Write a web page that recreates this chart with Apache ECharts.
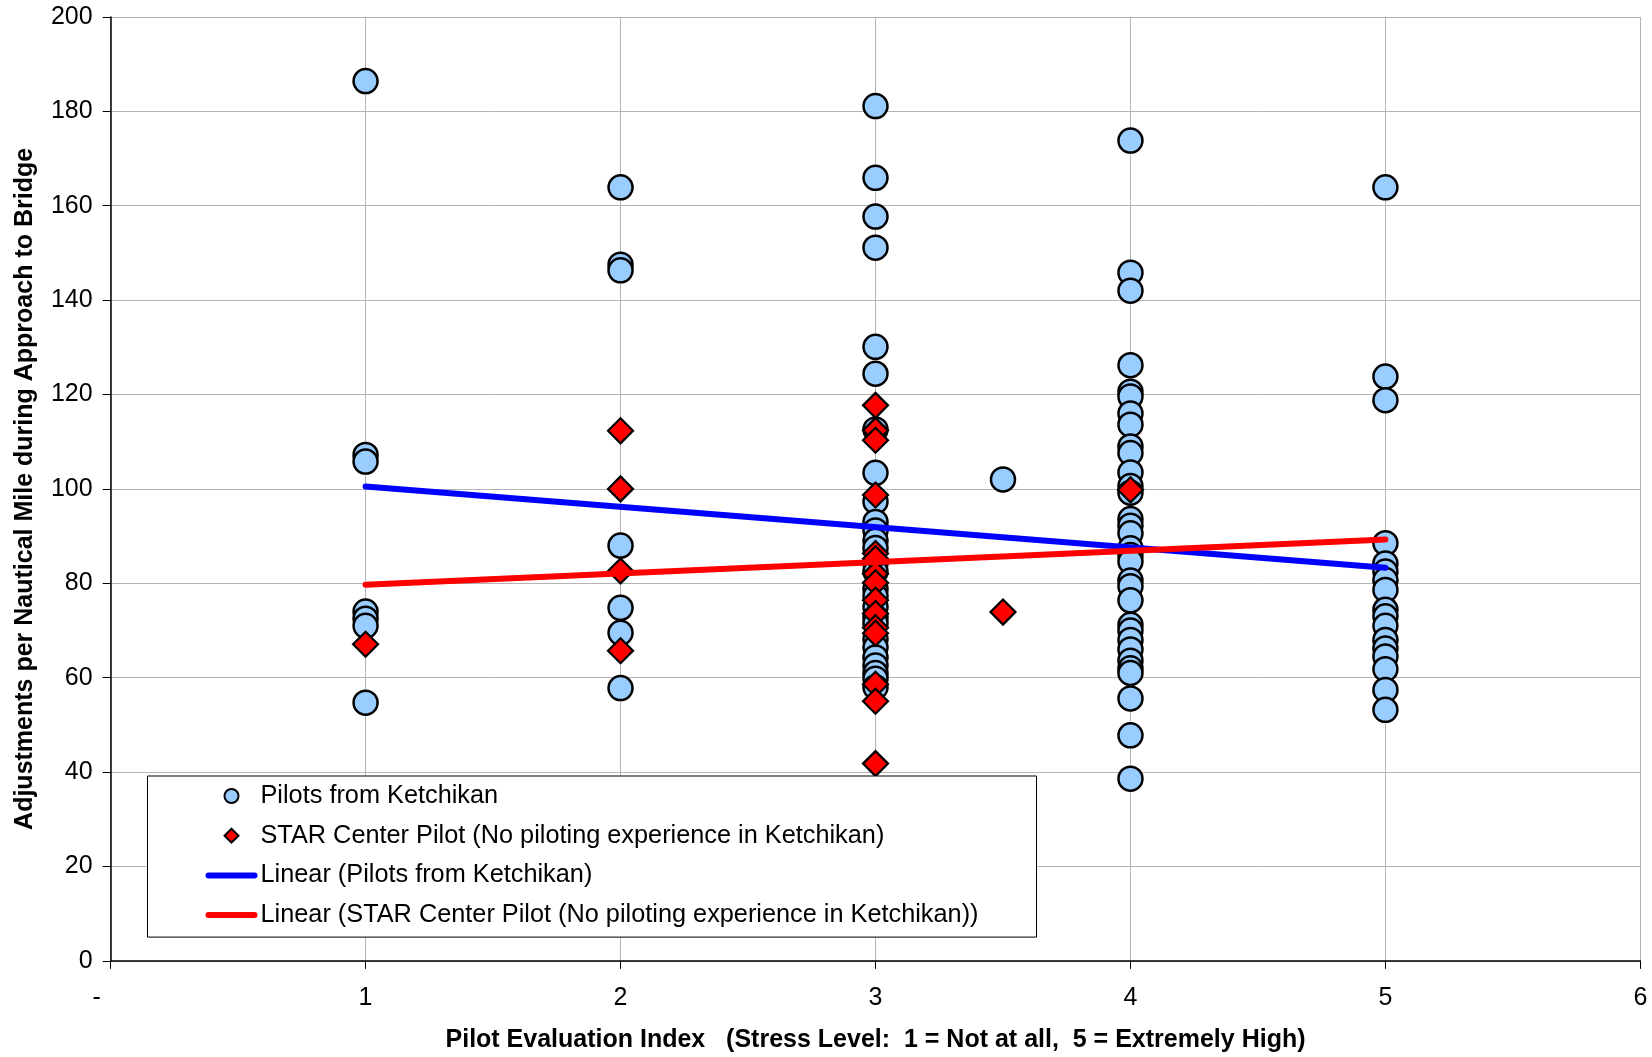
<!DOCTYPE html>
<html>
<head>
<meta charset="utf-8">
<title>Adjustments per Nautical Mile vs Pilot Evaluation Index</title>
<script src="https://cdn.jsdelivr.net/npm/echarts@6/dist/echarts.min.js"></script>
<style>
  html, body { margin: 0; padding: 0; background: #ffffff; }
  #chart { width: 1652px; height: 1057px; }
</style>
</head>
<body>
<div id="chart"></div>
<script>
// Adjustments per nautical mile, grouped by stress level (pilot evaluation index)
const ketchikanLevel1 = [186.4, 107.2, 105.8, 74.0, 72.5, 71.0, 54.7];
const ketchikanLevel2 = [163.9, 147.5, 146.3, 88.0, 74.8, 69.5, 57.8];
const ketchikanLevel3 = [181.1, 165.9, 157.7, 151.1, 130.1, 124.4, 112.6, 103.4, 97.3, 93.0, 91.2, 89.0, 87.5,
                         84.3, 82.5, 78.8, 77.3, 75.0, 72.8, 71.5, 68.2, 66.4, 64.3, 62.6, 61.0, 59.8, 58.0];
const ketchikanLevel35 = [102.0];
const ketchikanLevel4 = [173.8, 145.8, 142.0, 126.2, 120.6, 119.6, 116.0, 113.6, 109.0, 107.6, 103.5, 100.6, 99.2,
                         93.6, 92.2, 90.6, 87.4, 86.0, 84.6, 80.6, 79.4, 76.4, 71.2, 70.0, 68.0, 66.0, 63.6, 62.0,
                         61.0, 55.6, 47.8, 38.6];
const ketchikanLevel5 = [163.9, 123.8, 118.8, 88.5, 84.2, 82.5, 80.7, 78.6, 74.4, 73.0, 71.0, 68.0, 66.2, 64.5,
                         61.8, 57.4, 53.2];

const starLevel1 = [67.1];
const starLevel2 = [112.3, 100.0, 82.6, 65.7];
const starLevel3 = [117.7, 112.4, 110.3, 98.7, 86.3, 85.2, 82.0, 80.1, 76.4, 73.6, 70.6, 69.4, 58.6, 55.0, 41.8];
const starLevel35 = [73.9];
const starLevel4 = [99.8];

// Linear trend lines: [stress level, adjustments] at both ends
const ketchikanTrend = [[1, 100.5], [5, 83.3]];
const starTrend = [[1, 79.7], [5, 89.3]];

const seriesNames = [
  'Pilots from Ketchikan',
  'STAR Center Pilot (No piloting experience in Ketchikan)',
  'Linear (Pilots from Ketchikan)',
  'Linear (STAR Center Pilot (No piloting experience in Ketchikan))'
];
const xAxisTitle = 'Pilot Evaluation Index   (Stress Level:  1 = Not at all,  5 = Extremely High)';
const yAxisTitle = 'Adjustments per Nautical Mile during Approach to Bridge';

function toPoints(groups) {
  const pts = [];
  groups.forEach(([level, values]) => values.forEach(v => pts.push([level, v])));
  return pts;
}

const ketchikanPoints = toPoints([
  [1, ketchikanLevel1], [2, ketchikanLevel2], [3, ketchikanLevel3],
  [3.5, ketchikanLevel35], [4, ketchikanLevel4], [5, ketchikanLevel5]
]);
const starPoints = toPoints([
  [1, starLevel1], [2, starLevel2], [3, starLevel3], [3.5, starLevel35], [4, starLevel4]
]);

const FONT = '"Liberation Sans", Arial, sans-serif';

// Legend glyphs: square diamond and a thick rounded bar for the trend lines
const DIAMOND_ICON = 'path://M7,0 L14,7 L7,14 L0,7 Z';
const BAR_ICON = 'path://M3,0 L49,0 A3,3 0 0 1 49,6 L3,6 A3,3 0 0 1 3,0 Z';

const chart = echarts.init(document.getElementById('chart'), null, { renderer: 'canvas' });

chart.setOption({
  animation: false,
  backgroundColor: '#ffffff',
  grid: {
    left: 110.6, right: 11.6, top: 16.9, bottom: 96.1,
    containLabel: false, outerBoundsMode: 'none'
  },
  xAxis: {
    type: 'value',
    min: 0, max: 6, interval: 1,
    name: xAxisTitle,
    nameLocation: 'middle',
    nameGap: 67,
    nameTextStyle: { fontFamily: FONT, fontSize: 25, fontWeight: 'bold', color: '#000' },
    axisLine: { show: true, onZero: false, lineStyle: { color: '#000', width: 1.5 } },
    axisTick: { show: true, inside: false, length: 8, lineStyle: { color: '#000', width: 1 } },
    axisLabel: {
      fontFamily: FONT, fontSize: 25, color: '#000', margin: 25,
      formatter: v => (v === 0 ? '{dash|-}' : String(v)),
      rich: { dash: { fontFamily: FONT, fontSize: 25, color: '#000', padding: [0, 28, 0, 0] } }
    },
    splitLine: { show: true, lineStyle: { color: '#B4B4B4', width: 1 } }
  },
  yAxis: {
    type: 'value',
    min: 0, max: 200, interval: 20,
    name: yAxisTitle,
    nameLocation: 'middle',
    nameGap: 73,
    nameTextStyle: { fontFamily: FONT, fontSize: 25, fontWeight: 'bold', color: '#000' },
    axisLine: { show: true, lineStyle: { color: '#000', width: 1.5 } },
    axisTick: { show: true, inside: false, length: 8, lineStyle: { color: '#000', width: 1 } },
    axisLabel: { fontFamily: FONT, fontSize: 25, color: '#000', margin: 18 },
    splitLine: { show: true, lineStyle: { color: '#B4B4B4', width: 1 } }
  },
  legend: {
    orient: 'vertical',
    left: 147.5,
    top: 776,
    padding: [6, 58, 8, 58],
    backgroundColor: '#ffffff',
    borderColor: '#000',
    borderWidth: 1,
    borderRadius: 0,
    itemWidth: 52,
    itemHeight: 14,
    itemGap: 11.7,
    selectedMode: false,
    symbolKeepAspect: true,
    textStyle: { fontFamily: FONT, fontSize: 25.3, color: '#000', lineHeight: 28, padding: [0, 0, 0, -2] },
    data: [
      { name: seriesNames[0], icon: 'circle' },
      { name: seriesNames[1], icon: DIAMOND_ICON },
      { name: seriesNames[2], icon: BAR_ICON, itemStyle: { color: '#0000FF', borderWidth: 0 } },
      { name: seriesNames[3], icon: BAR_ICON, itemStyle: { color: '#FF0000', borderWidth: 0 } }
    ]
  },
  series: [
    {
      name: seriesNames[0],
      type: 'scatter',
      symbol: 'circle',
      symbolSize: 24,
      z: 2,
      itemStyle: { color: '#99CCFF', borderColor: '#000', borderWidth: 2.5, opacity: 1 },
      data: ketchikanPoints
    },
    {
      name: seriesNames[1],
      type: 'scatter',
      symbol: 'diamond',
      symbolSize: 25,
      z: 2,
      itemStyle: { color: '#FF0000', borderColor: '#000', borderWidth: 2.2, opacity: 1 },
      data: starPoints
    },
    {
      name: seriesNames[2],
      type: 'line',
      symbol: 'none',
      z: 3,
      lineStyle: { color: '#0000FF', width: 6, cap: 'round' },
      itemStyle: { color: '#0000FF' },
      data: ketchikanTrend
    },
    {
      name: seriesNames[3],
      type: 'line',
      symbol: 'none',
      z: 3,
      lineStyle: { color: '#FF0000', width: 6, cap: 'round' },
      itemStyle: { color: '#FF0000' },
      data: starTrend
    }
  ]
});
</script>
</body>
</html>
